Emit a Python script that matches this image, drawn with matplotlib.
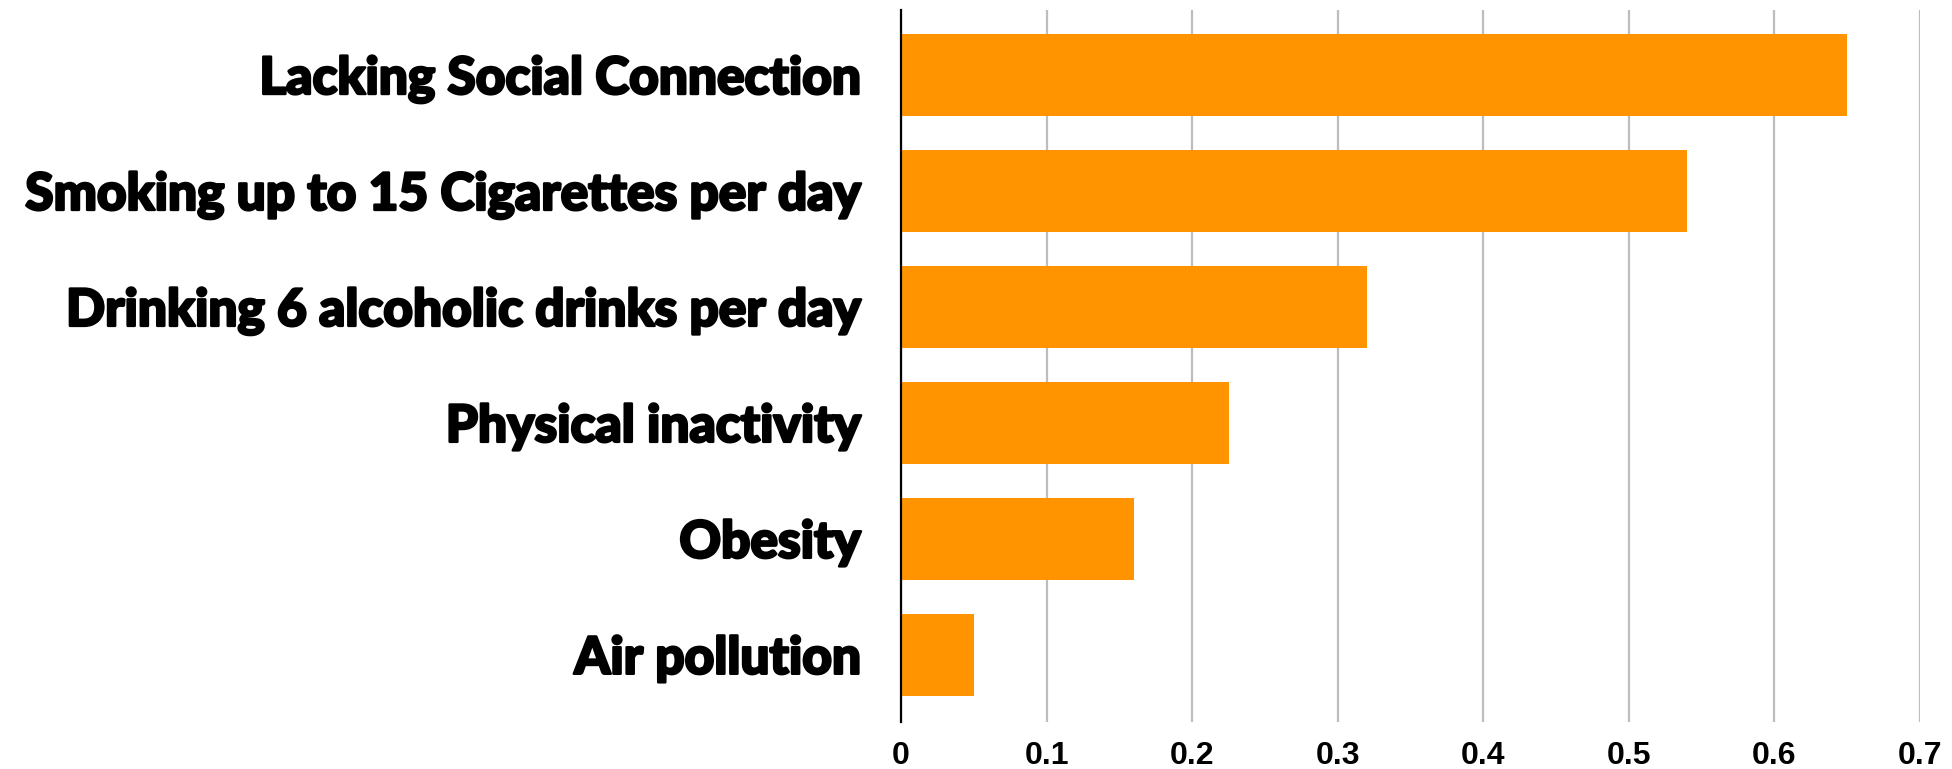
import matplotlib.pyplot as plt
import matplotlib.patheffects as pe

# Relative mortality risk factors
categories = [
    "Lacking Social Connection",
    "Smoking up to 15 Cigarettes per day",
    "Drinking 6 alcoholic drinks per day",
    "Physical inactivity",
    "Obesity",
    "Air pollution",
]
values = [0.65, 0.54, 0.32, 0.225, 0.16, 0.05]
x_ticks = [0, 0.1, 0.2, 0.3, 0.4, 0.5, 0.6, 0.7]
x_tick_labels = ["0", "0.1", "0.2", "0.3", "0.4", "0.5", "0.6", "0.7"]

BAR_COLOR = "#FF9400"
GRID_COLOR = "#BDBDBD"

fig = plt.figure(figsize=(19.52, 7.69), dpi=100)
ax = fig.add_axes([0.4616, 0.0611, 0.9836 - 0.4616, 0.987 - 0.0611])

y_pos = list(range(len(categories)))
ax.barh(y_pos, values, height=0.71, color=BAR_COLOR, zorder=3)

ax.set_xlim(0, 0.7)
ax.set_ylim(len(categories) - 1 + 0.58, -0.56)

ax.set_xticks(x_ticks)
ax.set_xticklabels(x_tick_labels, fontsize=23, fontweight="bold",
                   family=["Liberation Sans", "DejaVu Sans"])
ax.set_yticks(y_pos)
ax.set_yticklabels(categories, fontsize=37, fontweight="black",
                   family=["Lato", "DejaVu Sans"])
# thicken the category labels a bit to get the heavy look
for lbl in ax.get_yticklabels():
    lbl.set_path_effects([pe.withStroke(linewidth=1.8, foreground="black")])
ax.tick_params(axis="both", length=0)
ax.tick_params(axis="y", pad=29)
ax.tick_params(axis="x", pad=14)

ax.grid(axis="x", color=GRID_COLOR, linewidth=1.6, zorder=0)
ax.grid(axis="y", visible=False)
for side in ["top", "right", "bottom"]:
    ax.spines[side].set_visible(False)
ax.spines["left"].set_linewidth(1.6)
ax.spines["left"].set_color("black")
ax.spines["left"].set_zorder(4)

fig.savefig("out.png", dpi=100)
